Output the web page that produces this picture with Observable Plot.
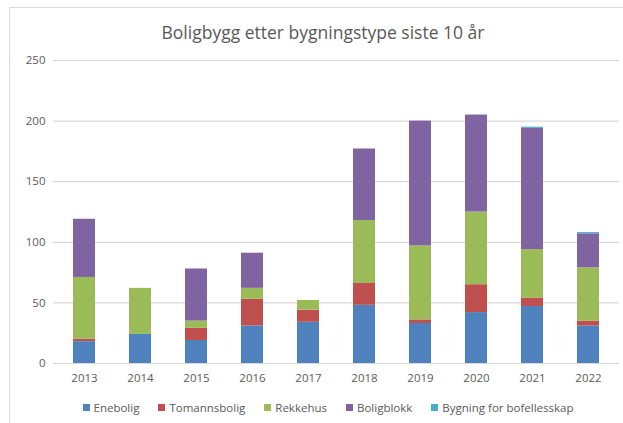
<!DOCTYPE html>
<html><head><meta charset="utf-8">
<script src="https://cdn.jsdelivr.net/npm/d3@7"></script>
<script src="https://cdn.jsdelivr.net/npm/@observablehq/plot@0.6"></script>
<style>
body{margin:0;background:#fff;font-family:"Open Sans","Liberation Sans",sans-serif;}
#wrap{position:relative;width:623px;height:423px;overflow:hidden;background:#fff;}
#frame{position:absolute;left:9px;top:7px;width:700px;height:500px;border:1px solid #d9d9d9;}
#title{position:absolute;left:0;top:20px;width:646px;text-align:center;font-size:17.5px;color:#595959;}
#legend{position:absolute;left:0;top:400px;width:656px;display:flex;justify-content:center;gap:19px;font-size:11.5px;color:#595959;}
#legend span.sw{display:inline-block;width:7px;height:7px;margin-right:4px;vertical-align:middle;position:relative;top:-1px;}
#chart{position:absolute;left:0;top:0;}
</style></head>
<body><div id="wrap"><div id="frame"></div><div id="title">Boligbygg etter bygningstype siste 10 år</div><div id="chart"></div><div id="legend"></div></div>
<script>
const years = ["2013","2014","2015","2016","2017","2018","2019","2020","2021","2022"];
const types = ["Enebolig","Tomannsbolig","Rekkehus","Boligblokk","Bygning for bofellesskap"];
const colors = ["#4f81bd","#c0504d","#9bbb59","#8064a2","#4bacc6"];
const enebolig     = [18, 24, 19, 31, 34, 48, 33, 42, 47, 31];
const tomannsbolig = [ 2,  0, 10, 22, 10, 18,  3, 23,  7,  4];
const rekkehus     = [51, 38,  6,  9,  8, 52, 61, 60, 40, 44];
const boligblokk   = [48,  0, 43, 29,  0, 59,103, 80,100, 28];
const bofellesskap = [ 0,  0,  0,  0,  0,  0,  0,  0,  1,  1];
const yTicks = [0, 50, 100, 150, 200, 250];

const series = [enebolig, tomannsbolig, rekkehus, boligblokk, bofellesskap];
const data = [];
types.forEach((t, i) => years.forEach((y, j) => data.push({year: y, type: t, value: series[i][j]})));

const plot = Plot.plot({
  width: 623, height: 423,
  marginTop: 60, marginBottom: 60, marginLeft: 53, marginRight: 4,
  style: {fontFamily: '"Open Sans","Liberation Sans",sans-serif', fontSize: "11.5px", color: "#595959", background: "transparent"},
  x: {domain: years, paddingInner: 0.6, paddingOuter: 0.3, label: null, tickSize: 0, tickPadding: 10},
  y: {domain: [0, 250], ticks: yTicks, label: null, tickSize: 0, tickPadding: 8},
  color: {domain: types, range: colors},
  marks: [
    Plot.gridY(yTicks, {stroke: "#d9d9d9", strokeOpacity: 1, strokeWidth: 1.2}),
    Plot.barY(data, {x: "year", y: "value", fill: "type", order: types}),
  ]
});
document.getElementById("chart").appendChild(plot);
const lg = document.getElementById("legend");
types.forEach((t, i) => {
  const d = document.createElement("div");
  d.innerHTML = `<span class="sw" style="background:${colors[i]}"></span>${t}`;
  lg.appendChild(d);
});
</script></body></html>
